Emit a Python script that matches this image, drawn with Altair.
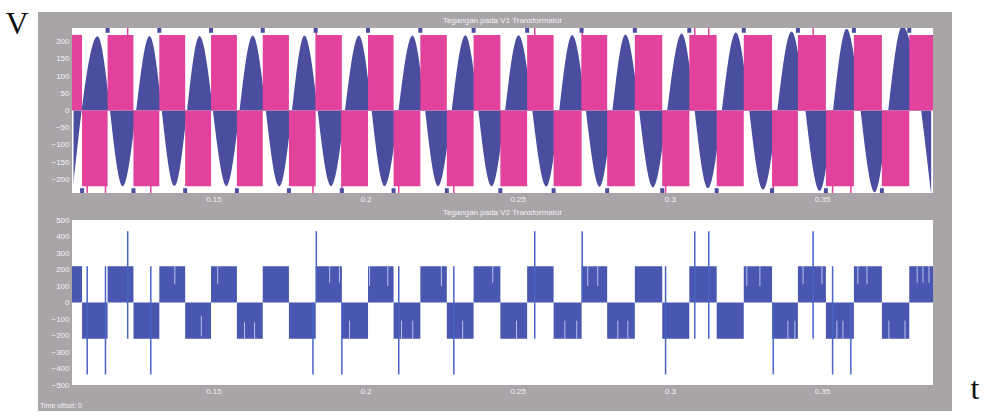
import altair as alt
import pandas as pd

# ---------------------------------------------------------------------------
# Data (time in seconds, voltage in volts)
# ---------------------------------------------------------------------------
T_START, T_END = 0.1035, 0.3865

# Square-wave switching edges and the level held between consecutive edges
edges = [0.1035, 0.1068, 0.1152, 0.1237, 0.1322, 0.1407, 0.1492, 0.1577,
         0.1662, 0.1748, 0.1836, 0.1922, 0.2008, 0.2092, 0.2180, 0.2267,
         0.2355, 0.2443, 0.2531, 0.2618, 0.2710, 0.2794, 0.2885, 0.2975,
         0.3064, 0.3154, 0.3243, 0.3336, 0.3421, 0.3513, 0.3605, 0.3697,
         0.3787, 0.3865]
levels = [220, -220, 220, -220, 220, -220, 220, -220, 220, -220, 220,
          -220, 220, -220, 220, -220, 220, -220, 220, -220, 220, -220,
          220, -220, 220, -220, 220, -220, 220, -220, 220, -220, 220]

# Sinusoidal V1 component: successive troughs and crests
sine_t = [0.1040, 0.1119, 0.1202, 0.1290, 0.1372, 0.1454, 0.1543, 0.1629,
          0.1717, 0.1799, 0.1887, 0.1978, 0.2063, 0.2154, 0.2238, 0.2328,
          0.2414, 0.2503, 0.2594, 0.2679, 0.2770, 0.2854, 0.2945, 0.3039,
          0.3126, 0.3217, 0.3307, 0.3400, 0.3493, 0.3581, 0.3674, 0.3764,
          0.3859]
sine_v = [-220, 216, -220, 217, -219, 217, -220, 218, -220, 218, -220,
          218, -220, 218, -220, 219, -220, 219, -221, 220, -222, 221,
          -224, 224, -226, 227, -230, 230, -234, 238, -238, 246, -244]

# Switching transients: instant, upper and lower end of each spike
spike_t = [0.1085, 0.1145, 0.1218, 0.1294, 0.1827, 0.1838, 0.1922, 0.2109,
           0.2290, 0.2556, 0.2712, 0.2986, 0.3082, 0.3128, 0.3340, 0.3471,
           0.3535, 0.3595]
spike_hi = [220, 220, 432, 220, 0, 432, 0, 220, 220, 432, 432, 220, 432,
            432, 0, 432, 220, 0]
spike_lo = [-436, -436, -220, -436, -436, 0, -436, -436, -436, -220, 0,
            -436, -220, -220, -436, -220, -436, -436]

# PWM notches inside the V2 blocks
gap_t = [0.1373, 0.1460, 0.1514, 0.1602, 0.1635, 0.1882, 0.1914, 0.1947,
         0.2013, 0.2073, 0.2118, 0.2155, 0.2249, 0.2319, 0.2418, 0.2496,
         0.2655, 0.2694, 0.2730, 0.2763, 0.2829, 0.2862, 0.3253, 0.3296,
         0.3388, 0.3411, 0.3438, 0.3500, 0.3549, 0.3569, 0.3618, 0.3648,
         0.3720, 0.3773, 0.3813, 0.3832, 0.3852]
gap_hi = [220, -80, 220, -120, -120, 220, 220, -110, 220, 220, -110, -110,
          220, -110, 220, -110, -110, -110, 220, 220, -110, -110, 220, 220,
          -110, -110, 220, 220, -110, -110, 220, 220, -110, -110, 220, 220,
          220]
gap_lo = [110, -205, 110, -220, -220, 120, 120, -220, 100, 100, -220, -220,
          100, -220, 120, -220, -220, -220, 100, 100, -220, -220, 100, 100,
          -220, -220, 110, 110, -220, -220, 110, 110, -220, -220, 120, 120,
          120]

x_ticks = [0.15, 0.2, 0.25, 0.3, 0.35]
y1_ticks = [200, 150, 100, 50, 0, -50, -100, -150, -200]
y2_ticks = [500, 400, 300, 200, 100, 0, -100, -200, -300, -400, -500]

# ---------------------------------------------------------------------------
# Tables
# ---------------------------------------------------------------------------
blocks = pd.DataFrame({"t": edges[:-1], "t2": edges[1:], "v": levels})
blocks["v2"] = 0
sine = pd.DataFrame({"t": sine_t, "v": sine_v})
spikes = pd.DataFrame({"t": spike_t, "v": spike_hi, "v2": spike_lo})
gaps = pd.DataFrame({"t": gap_t, "v": gap_hi, "v2": gap_lo})
one = pd.DataFrame({"k": [0]})

# ---------------------------------------------------------------------------
# Style
# ---------------------------------------------------------------------------
W, H = 861, 165
GAP = 27
FRAME = "#a9a4a8"
PINK = "#e2429c"
BLUE1 = "#4b4e9f"
BLUE2 = "#4957b0"
SPIKE = "#4a64c4"
LABEL = "#f4f2f5"
FONT = "Liberation Sans"

xs = alt.Scale(domain=[T_START, T_END], nice=False, zero=False)
ys1 = alt.Scale(domain=[-240, 240], nice=False)
ys2 = alt.Scale(domain=[-500, 500], nice=False)

x_axis = alt.Axis(values=x_ticks, format="~g", title=None, domain=False,
                  ticks=False, grid=False, labelFontSize=8, labelColor=LABEL,
                  labelFont=FONT, labelPadding=2, zindex=1)


def y_axis(vals):
    return alt.Axis(values=vals, title=None, domain=False, ticks=False,
                    grid=False, labelFontSize=8, labelColor=LABEL,
                    labelFont=FONT, labelPadding=3, zindex=1)


def X(field="t"):
    return alt.X(f"{field}:Q", scale=xs, axis=x_axis)


def Y(scale, vals, field="v"):
    return alt.Y(f"{field}:Q", scale=scale, axis=y_axis(vals))


def panel_title(text):
    # caption centred in the gray strip just above a plot area
    return alt.Chart(one).mark_text(
        text=text, font=FONT, fontSize=8, align="center", baseline="middle",
        color=LABEL).encode(x=alt.value(W / 2), y=alt.value(-7))


# ---------------------------------------------------------------------------
# Top panel: V1 (sinusoid + square wave)
# ---------------------------------------------------------------------------
frame = alt.Chart(one).mark_rect(color=FRAME).encode(
    x=alt.value(-34), x2=alt.value(W + 19),
    y=alt.value(-16), y2=alt.value(2 * H + GAP + 26))
plot_bg = alt.Chart(one).mark_rect(color="white").encode(
    x=alt.value(0), x2=alt.value(W), y=alt.value(0), y2=alt.value(H))
v_label = alt.Chart(one).mark_text(
    text="V", font="Liberation Serif", fontSize=32, align="center",
    baseline="alphabetic", color="#111111").encode(
    x=alt.value(-55), y=alt.value(6))

sine_area = alt.Chart(sine).mark_area(
    color=BLUE1, interpolate="monotone", clip=True).encode(
    x=X(), y=Y(ys1, y1_ticks))

pink_spikes = alt.Chart(spikes).transform_calculate(
    tip="datum.v > 300 ? 260 : -260", base="0").mark_rule(
    color=PINK, strokeWidth=1.5, clip=True).encode(
    x=X(), y=Y(ys1, y1_ticks, "base"), y2="tip:Q")

pink_blocks = alt.Chart(blocks).mark_rect(color=PINK, clip=True).encode(
    x=X(), x2="t2:Q", y=Y(ys1, y1_ticks), y2="v2:Q")

edge_tips = alt.Chart(blocks.iloc[1:]).transform_calculate(
    a="datum.v > 0 ? 226 : -226", b="datum.v > 0 ? 260 : -260").mark_rule(
    color=BLUE1, strokeWidth=4, clip=True).encode(
    x=X(), y=Y(ys1, y1_ticks, "a"), y2="b:Q")

top = alt.layer(frame, plot_bg, v_label,
                panel_title("Tegangan pada V1 Transformator"),
                sine_area, pink_spikes, pink_blocks, edge_tips).properties(
    width=W, height=H)

# ---------------------------------------------------------------------------
# Bottom panel: V2 (square wave with switching spikes)
# ---------------------------------------------------------------------------
plot_bg2 = alt.Chart(one).mark_rect(color="white").encode(
    x=alt.value(0), x2=alt.value(W), y=alt.value(0), y2=alt.value(H))

v2_blocks = alt.Chart(blocks).mark_rect(color=BLUE2, clip=True).encode(
    x=X(), x2="t2:Q", y=Y(ys2, y2_ticks), y2="v2:Q")

v2_gaps = alt.Chart(gaps).mark_rule(
    color="#b9c2ea", strokeWidth=1, clip=True).encode(
    x=X(), y=Y(ys2, y2_ticks), y2="v2:Q")

v2_spikes = alt.Chart(spikes).mark_rule(
    color=SPIKE, strokeWidth=1.5, clip=True).encode(
    x=X(), y=Y(ys2, y2_ticks), y2="v2:Q")

offset_note = alt.Chart(one).mark_text(
    text="Time offset:  0", font=FONT, fontSize=7, align="left",
    baseline="middle", color=LABEL).encode(
    x=alt.value(-32), y=alt.value(H + 21))

t_label = alt.Chart(one).mark_text(
    text="t", font="Liberation Serif", fontSize=32, align="center",
    baseline="alphabetic", color="#111111").encode(
    x=alt.value(W + 42), y=alt.value(H + 14))

bottom = alt.layer(plot_bg2, panel_title("Tegangan pada V2 Transformator"),
                   v2_blocks, v2_gaps, v2_spikes, offset_note,
                   t_label).properties(width=W, height=H)

# The concatenated layout reports its width but not its height, so the
# canvas height is carried entirely by the bottom padding.
chart = alt.vconcat(top, bottom, spacing=GAP, bounds="flush").properties(
    autosize=alt.AutoSizeParams(type="none"),
    padding={"left": 72, "top": 28, "right": 988 - 72 - W,
             "bottom": 416 - 28},
    background="white",
).configure_view(stroke=None)

chart.save("out.html", embed_options={"renderer": "svg", "actions": False})
